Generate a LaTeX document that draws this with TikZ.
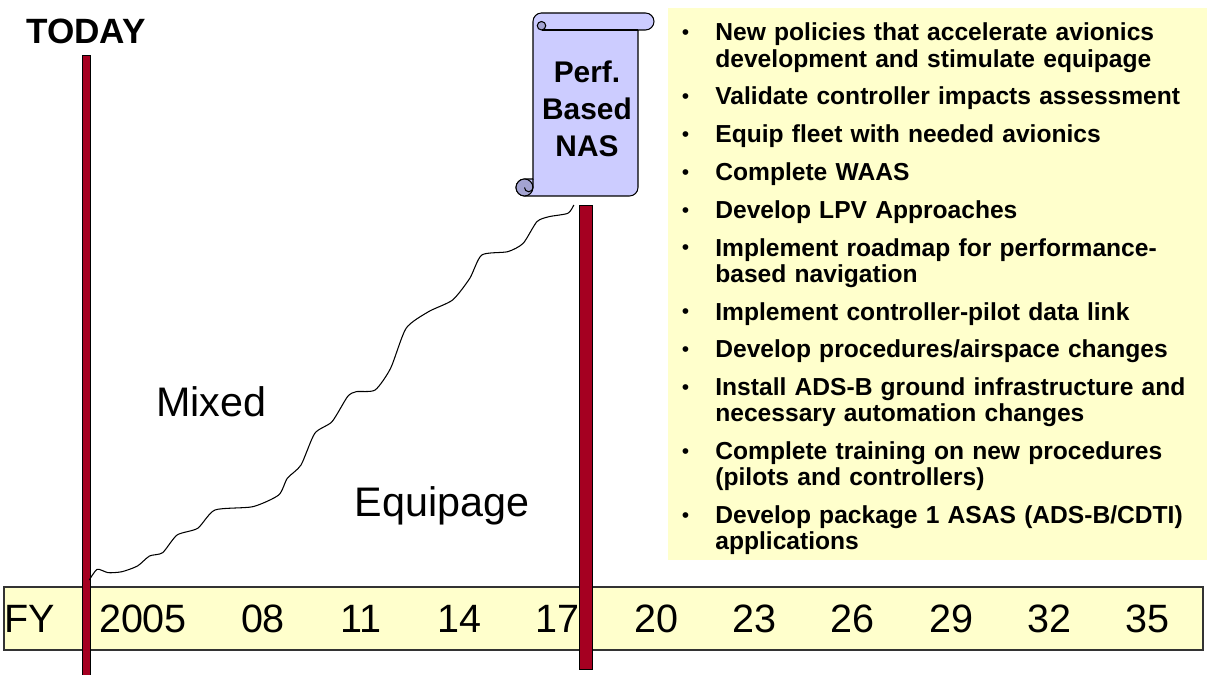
\documentclass[tikz,border=0pt]{standalone}
\usepackage{fontspec}
\setmainfont{Liberation Sans}
\usepackage{tikz}
\usetikzlibrary{positioning}
\definecolor{paleyellow}{HTML}{FFFFCC}
\definecolor{scrollblue}{HTML}{CCCCFF}
\definecolor{curlblue}{HTML}{A3A3D1}
\definecolor{barred}{HTML}{A50021}
\newcommand{\bul}{\llap{\mdseries\fontsize{12}{12}\selectfont\raisebox{0.7pt}{\textbullet}\hspace{14.8pt}}}

\begin{document}
\begin{tikzpicture}[x=0.02cm, y=0.02cm,
    yearnode/.style={anchor=base, inner sep=0pt, font=\fontsize{22.5}{27}\selectfont},
    bignode/.style={anchor=base, inner sep=0pt, font=\fontsize{23.5}{28}\selectfont},
    itemnode/.style={anchor=base west, text width=9.8cm, align=left, inner sep=0pt, font=\fontsize{14}{14.87}\selectfont\bfseries},
    redbar/.style={draw=black, fill=barred, line width=0.5pt}]
    \useasboundingbox (0,0) rectangle (1207,675);

    %Timeline
    \draw[draw=black!80, fill=paleyellow, line width=0.6pt] (4,25) rectangle (1203,88);
    \node[yearnode] (fy) at (29.7,42) {FY};
    \node[yearnode] (y2005) at (143,42) {2005};
    \foreach \yr [count=\k] in {08,11,14,17,20,23,26,29,32,35}
        \node[yearnode] (yr\k) at ({263+98.3*(\k-1)},42) {\yr};

    % Bars
    \draw[redbar] (82.5,0) rectangle (90,620);
    \draw[redbar] (579,6) rectangle (592,470);
    \node[anchor=base, inner sep=0pt, font=\fontsize{20}{24}\selectfont\bfseries] (today) at (86,631) {TODAY};

    % Equipage curve
    \draw[line width=0.6pt] plot[smooth, tension=0.4] coordinates {(89.3,95) (97.2,105.7) (108.2,102.3) (122,103.3) (137.5,109) (149.5,119) (162.6,122.3) (177.1,140) (197.7,146.7) (215,165) (252.8,168.3) (278.7,180) (287.3,196.7) (301,210) (314.8,241.7) (332,253.3) (347.5,278.3) (356.1,283.3) (375.1,285) (390.6,306.7) (406.1,346.7) (428.5,363.3) (452.6,375) (469.8,396.7) (481.8,420) (507.7,423.3) (523.2,431.7) (536.9,453.3) (549,458.3) (567.9,461.7) (573.8,470)};
    \node[bignode] (mixed) at (211.5,258.3) {Mixed};
    \node[bignode] (equipage) at (442,158.3) {Equipage};

    % Scroll
    \draw[fill=scrollblue, line width=0.6pt] (533,645) -- (533,496) -- (524.5,496)
        arc[start angle=90, end angle=270, radius=0.17cm] -- (629.5,479)
        arc[start angle=-90, end angle=0, radius=0.17cm] -- (638,645) -- (645.5,645)
        arc[start angle=-90, end angle=90, radius=0.17cm] -- (541.5,662)
        arc[start angle=90, end angle=180, radius=0.17cm] -- cycle;
    \draw[line width=0.6pt] (541.5,645) -- (638,645);
    \draw[fill=curlblue, line width=0.6pt] (541.5,649.25) circle[radius=0.085cm];
    \draw[fill=curlblue, line width=0.6pt] (524.5,487.5) circle[radius=0.17cm];
    \draw[line width=0.6pt] (533,496) -- (533,487.5) arc[start angle=0, end angle=-180, radius=0.085cm];
    \node[anchor=base, text width=2.6cm, align=center, inner sep=0pt, font=\fontsize{17}{21}\selectfont\bfseries] (nas) at (587,592) {Perf.\\Based\\NAS};

    % Actions
    \fill[paleyellow] (668,115) rectangle (1207,667);
    \node[itemnode] (policy) at (715,634) {\bul New policies that accelerate avionics\\development and stimulate equipage};
    \node[itemnode] (validate) at (715,570) {\bul Validate controller impacts assessment};
    \node[itemnode] (fleet) at (715,532.2) {\bul Equip fleet with needed avionics};
    \node[itemnode] (waas) at (715,494.4) {\bul Complete WAAS};
    \node[itemnode] (lpv) at (715,456.6) {\bul Develop LPV Approaches};
    \node[itemnode] (roadmap) at (715,418.8) {\bul Implement roadmap for performance-\\based navigation};
    \node[itemnode] (datalink) at (715,354.8) {\bul Implement controller-pilot data link};
    \node[itemnode] (airspace) at (715,317) {\bul Develop procedures/airspace changes};
    \node[itemnode] (adsb) at (715,279.2) {\bul Install ADS-B ground infrastructure and\\necessary automation changes};
    \node[itemnode] (training) at (715,215.2) {\bul Complete training on new procedures\\(pilots and controllers)};
    \node[itemnode] (asas) at (715,151.2) {\bul Develop package 1 ASAS (ADS-B/CDTI)\\applications};

\end{tikzpicture}
\end{document}
